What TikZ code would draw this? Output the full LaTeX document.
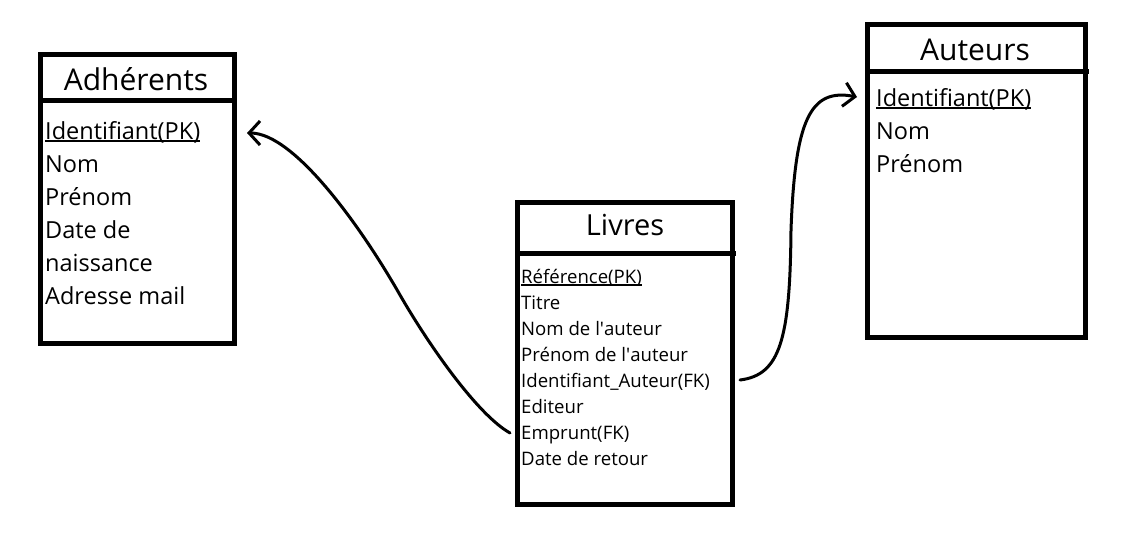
\documentclass[tikz,border=0pt]{standalone}
\usepackage{fontspec}
\setmainfont{Open Sans}
\usetikzlibrary{arrows.meta}
\newcommand\ulpk[2]{\setbox0\hbox{#2}\rlap{\vrule height -#1 depth 2.8pt width \wd0}\box0}
\begin{document}
\begin{tikzpicture}[x=1pt,y=-1pt,
  tbl/.style={draw, line width=5pt, outer sep=0pt, inner sep=0pt, anchor=north west},
  bigtitle/.style={anchor=base, inner sep=0pt, font=\fontsize{30}{36}\selectfont},
  bigitem/.style={anchor=base west, inner sep=0pt, font=\fontsize{23.5}{28}\selectfont},
  smallitem/.style={anchor=base west, inner sep=0pt, font=\fontsize{18.6}{22}\selectfont},
  link/.style={line width=3pt, line cap=round, line join=round, -{Straight Barb[length=11pt,width=24pt]}}]
\fill[white] (0,0) rectangle (1134,554);
\useasboundingbox (0,0) rectangle (1134,554);
% Adherents
\node[tbl, minimum width=194pt, minimum height=45.5pt] (adhhead) at (40.5,54.5) {};
\node[tbl, minimum width=194pt, minimum height=243.5pt] (adhbody) at (40.5,100) {};
\node[bigtitle] (adhtitle) at (136,90) {Adhérents};
\node[bigitem] (adh1) at (45,139) {\ulpk{1.2pt}{Identifiant(PK)}};
\node[bigitem] (adh2) at (45,172) {Nom};
\node[bigitem] (adh3) at (45,205) {Prénom};
\node[bigitem] (adh4) at (45,238) {Date de};
\node[bigitem] (adh5) at (45,271) {naissance};
\node[bigitem] (adh6) at (45,304) {Adresse mail};
% Livres
\node[tbl, minimum width=215pt, minimum height=50.5pt] (livhead) at (517.5,202.5) {};
\node[tbl, minimum width=215pt, minimum height=251.5pt] (livbody) at (517.5,253) {};
\draw[line width=5pt] (livhead.south east) -- ++(3,0);
\node[bigtitle, font=\fontsize{29}{34}\selectfont] (livtitle) at (625,235) {Livres};
\node[smallitem] (liv1) at (521,283) {\ulpk{1pt}{Référence(PK)}};
\node[smallitem] (liv2) at (521,309) {Titre};
\node[smallitem] (liv3) at (521,335) {Nom de l\textquotesingle auteur};
\node[smallitem] (liv4) at (521,361) {Prénom de l\textquotesingle auteur};
\node[smallitem] (liv5) at (521,387) {Identifiant\_Auteur(FK)};
\node[smallitem] (liv6) at (521,413) {Editeur};
\node[smallitem] (liv7) at (521,439) {Emprunt(FK)};
\node[smallitem] (liv8) at (521,465) {Date de retour};
% Auteurs
\node[tbl, minimum width=218pt, minimum height=46.5pt] (authead) at (867.5,24.5) {};
\node[tbl, minimum width=218pt, minimum height=266.5pt] (autbody) at (867.5,71) {};
\draw[line width=5pt] (authead.south east) -- ++(3,0);
\node[bigtitle] (auttitle) at (975,60) {Auteurs};
\node[bigitem] (aut1) at (876,106) {\ulpk{1.2pt}{Identifiant(PK)}};
\node[bigitem] (aut2) at (876,139) {Nom};
\node[bigitem] (aut3) at (876,172) {Prénom};
% connectors
\coordinate (l0) at (510,433);
\coordinate (lm) at (400,295);
\coordinate (l1) at (247,133);
\draw[link] (l0) .. controls (478,415) and (430,347) .. (lm) .. controls (363,230) and (295,133) .. (l1);
\coordinate (r0) at (740,380);
\coordinate (rm) at (791,230);
\coordinate (r1) at (857,97);
\draw[link] (r0) .. controls (780,375) and (790,340) .. (rm) .. controls (795,120) and (810,88) .. (r1);
\end{tikzpicture}
\end{document}
